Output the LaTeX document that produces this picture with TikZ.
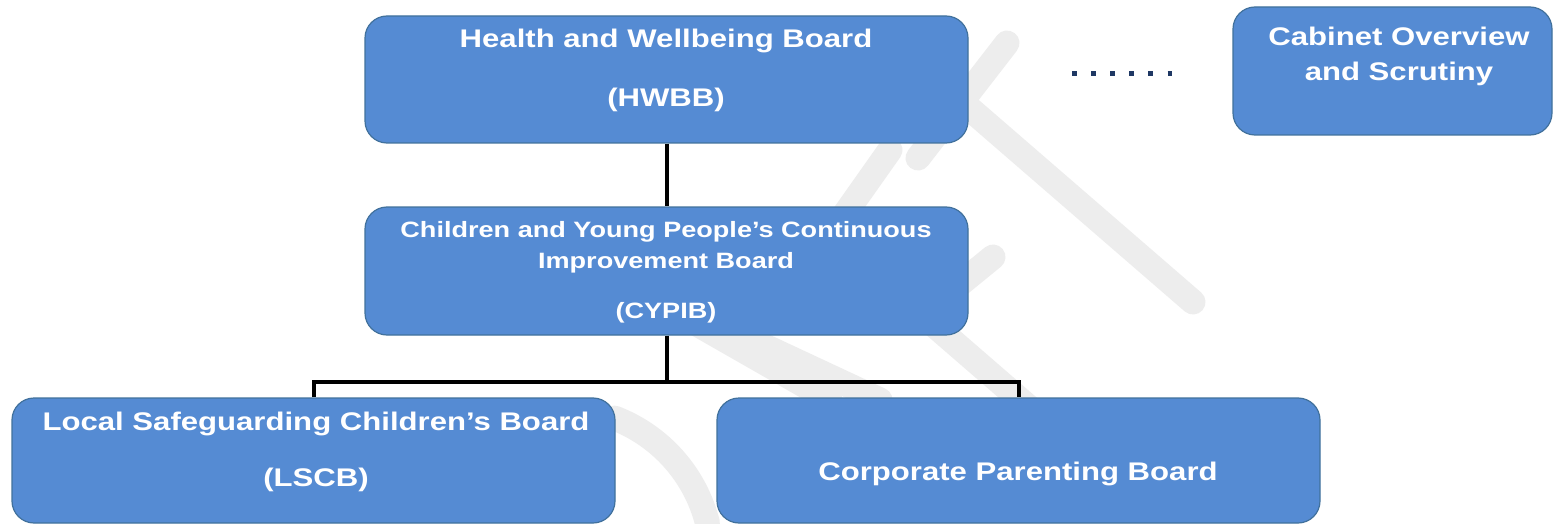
\documentclass[tikz,border=0pt]{standalone}
\usepackage{fontspec}
\newfontfamily\boxfont{Liberation Sans}[FakeStretch=1.22]
\usetikzlibrary{calc}
\definecolor{boxfill}{HTML}{558BD3}
\definecolor{boxline}{HTML}{41719C}
\definecolor{wmgray}{HTML}{EDEDED}
\definecolor{dotnavy}{HTML}{1F3864}

\begin{document}
\begin{tikzpicture}[x=1pt,y=-1pt,
  board/.style={draw=boxline, line width=1.2pt, fill=boxfill, rounded corners=22pt, inner sep=0pt},
  lbl/.style={anchor=base, text=white, inner sep=0pt, font=\boxfont\bfseries\fontsize{25.5}{30}\selectfont},
  small/.style={font=\boxfont\bfseries\fontsize{22.2}{26}\selectfont},
  link/.style={black, line width=4pt},
  dotlink/.style={dotnavy, line width=4.5pt, dash pattern=on 4.5pt off 14.6pt},
  wm/.style={wmgray, line width=25pt, line cap=round, line join=round}]

\useasboundingbox (0,0) rectangle (1553,524);
\fill[white] (0,0) rectangle (1553,524);

% faint diagonal watermark strokes
\draw[wm] (1007,43) -- (918,158);
\draw[wm] (962,102) -- (1193,302);
\draw[wm] (890,150) -- (830,235) -- (1062,436);
\draw[wm] (922,315) -- (993,257);
\draw[wm] (690,320) -- (830,400);
\draw[wm] (730,330) -- (880,400);
\draw[wm] (560,560) ++(-69:152) arc[start angle=-69, end angle=-14, radius=152];

% boxes
\node[board, minimum width=603pt, minimum height=127pt] (hwbb) at (666.5,79.5) {};
\node[board, minimum width=319pt, minimum height=128pt] (cabinet) at (1392.5,71) {};
\node[board, minimum width=603pt, minimum height=128pt] (cypib) at (666.5,271) {};
\node[board, minimum width=603pt, minimum height=125pt] (lscb) at (313.5,460.5) {};
\node[board, minimum width=603pt, minimum height=125pt] (corp) at (1018.5,460.5) {};

% connectors
\coordinate (hub) at ($(cypib.south)+(0,46.5)$);
\draw[link] (hwbb.south) -- (cypib.north);
\draw[link] (cypib.south) -- (hub);
\draw[link] (lscb.north) |- (hub) -| (corp.north);

% dotted link to the scrutiny box
\coordinate (dotA) at (1072,73.5);
\coordinate (dotB) at (1172,73.5);
\draw[dotlink] (dotA) -- (dotB);

% labels
\node[lbl] (hwbb-name) at (666,48) {Health and Wellbeing Board};
\node[lbl] (hwbb-abbr) at (666,107) {(HWBB)};
\node[lbl] (cab-l1) at (1399,46) {Cabinet Overview};
\node[lbl] (cab-l2) at (1399,81) {and Scrutiny};
\node[lbl,small] (cyp-l1) at (666,237) {Children and Young People’s Continuous};
\node[lbl,small] (cyp-l2) at (666,268) {Improvement Board};
\node[lbl,small] (cyp-abbr) at (666,318) {(CYPIB)};
\node[lbl] (lscb-name) at (316,430) {Local Safeguarding Children’s Board};
\node[lbl] (lscb-abbr) at (316,486) {(LSCB)};
\node[lbl] (corp-name) at (1018,480) {Corporate Parenting Board};
\end{tikzpicture}
\end{document}
